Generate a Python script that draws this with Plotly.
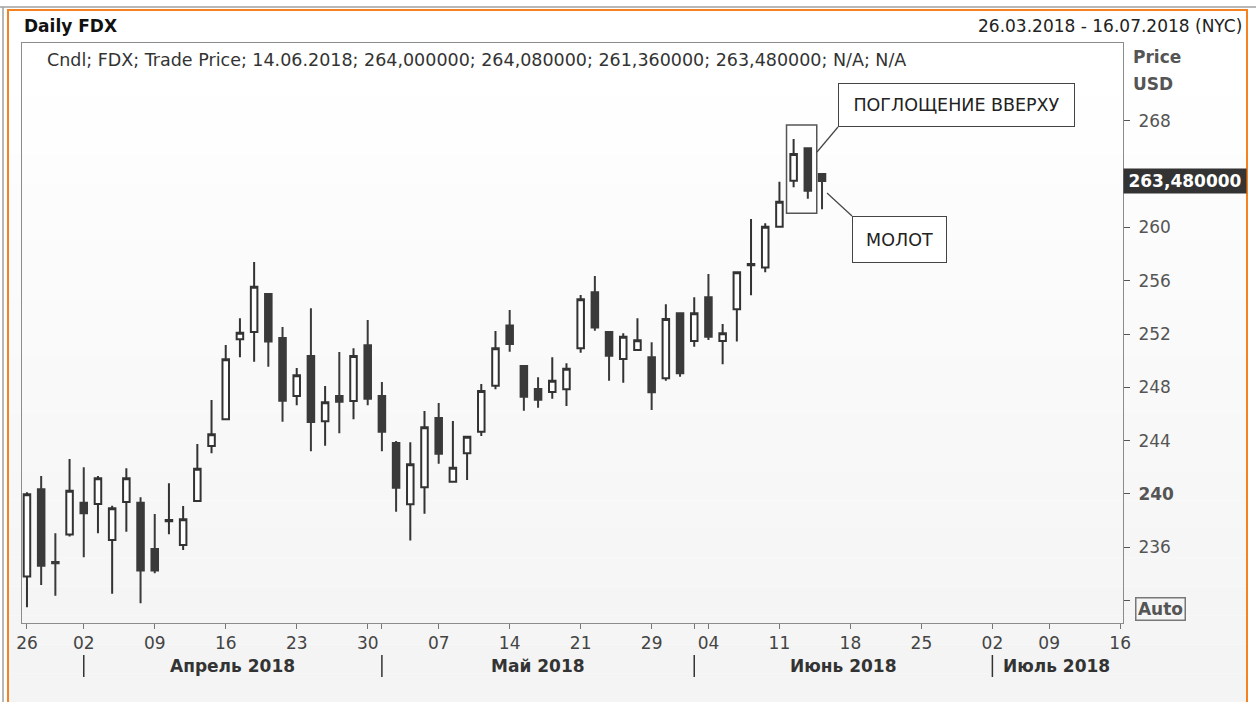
import plotly.graph_objects as go

# ---------------- data ----------------
dates = [
    "2018-03-26", "2018-03-27", "2018-03-28", "2018-03-29",
    "2018-04-02", "2018-04-03", "2018-04-04", "2018-04-05", "2018-04-06",
    "2018-04-09", "2018-04-10", "2018-04-11", "2018-04-12", "2018-04-13",
    "2018-04-16", "2018-04-17", "2018-04-18", "2018-04-19", "2018-04-20",
    "2018-04-23", "2018-04-24", "2018-04-25", "2018-04-26", "2018-04-27",
    "2018-04-30", "2018-05-01", "2018-05-02", "2018-05-03", "2018-05-04",
    "2018-05-07", "2018-05-08", "2018-05-09", "2018-05-10", "2018-05-11",
    "2018-05-14", "2018-05-15", "2018-05-16", "2018-05-17", "2018-05-18",
    "2018-05-21", "2018-05-22", "2018-05-23", "2018-05-24", "2018-05-25",
    "2018-05-29", "2018-05-30", "2018-05-31", "2018-06-01",
    "2018-06-04", "2018-06-05", "2018-06-06", "2018-06-07", "2018-06-08",
    "2018-06-11", "2018-06-12", "2018-06-13", "2018-06-14",
]
future_dates = [
    "2018-06-15", "2018-06-18", "2018-06-19", "2018-06-20", "2018-06-21",
    "2018-06-22", "2018-06-25", "2018-06-26", "2018-06-27", "2018-06-28",
    "2018-06-29", "2018-07-02", "2018-07-03", "2018-07-05", "2018-07-06",
    "2018-07-09", "2018-07-10", "2018-07-11", "2018-07-12", "2018-07-13",
    "2018-07-16",
]
open_ = [233.80, 240.35, 234.90, 236.95, 239.35, 239.25, 236.55, 239.40, 239.35,
         235.87, 237.95, 236.17, 239.47, 243.60, 245.60, 251.60, 252.15, 255.00,
         251.70, 247.35, 250.35, 245.45, 247.35, 246.98, 251.15, 247.35, 243.83,
         239.23, 240.50, 245.70, 240.92, 243.05, 244.67, 248.12, 252.63, 249.60,
         247.88, 247.65, 247.85, 250.93, 255.13, 252.15, 250.13, 250.80, 250.25,
         248.68, 253.55, 251.48, 254.75, 251.48, 253.85, 257.15, 256.98, 260.05,
         263.50, 265.93, 264.00]
high = [240.13, 241.35, 237.05, 242.63, 242.00, 241.35, 239.12, 241.93, 239.75,
        238.50, 240.80, 239.10, 243.75, 247.05, 251.18, 253.18, 257.40, 255.00,
        252.53, 249.45, 253.93, 248.10, 250.65, 250.93, 253.05, 248.40, 243.98,
        243.88, 246.23, 246.83, 245.48, 244.35, 248.25, 252.23, 253.80, 249.60,
        248.75, 250.25, 249.80, 254.93, 256.35, 252.15, 252.05, 253.18, 251.38,
        254.23, 253.55, 254.75, 256.50, 252.75, 256.68, 260.63, 260.30, 263.43,
        266.63, 265.93, 264.08]
low = [231.50, 233.17, 232.37, 236.80, 235.25, 237.05, 232.52, 237.17, 231.80,
       234.05, 236.98, 235.80, 239.40, 243.05, 245.60, 250.25, 249.92, 249.55,
       245.42, 246.65, 243.20, 243.62, 244.55, 245.60, 246.65, 243.20, 238.67,
       236.50, 238.52, 242.27, 240.92, 241.05, 244.35, 247.85, 250.67, 246.25,
       246.47, 247.15, 246.60, 250.60, 252.25, 248.50, 248.35, 250.80, 246.30,
       248.50, 248.80, 251.05, 251.55, 249.73, 251.43, 254.90, 256.63, 260.05,
       263.00, 262.15, 261.36]
close = [239.98, 234.62, 234.80, 240.25, 238.55, 241.18, 238.93, 241.18, 234.25,
         234.25, 238.05, 238.10, 241.90, 244.48, 250.10, 252.10, 255.55, 251.43,
         247.00, 248.90, 245.40, 246.88, 246.92, 250.35, 247.15, 244.67, 240.47,
         242.23, 245.00, 243.02, 241.97, 244.30, 247.73, 250.93, 251.25, 247.30,
         247.07, 248.50, 249.40, 254.60, 252.48, 250.37, 251.80, 251.53, 247.63,
         253.13, 249.05, 253.55, 251.80, 252.05, 256.63, 257.25, 260.05, 261.93,
         265.50, 262.75, 263.48]

tick_dates = ["2018-03-26", "2018-04-02", "2018-04-09", "2018-04-16", "2018-04-23",
              "2018-04-30", "2018-05-01", "2018-05-07", "2018-05-14", "2018-05-21",
              "2018-05-29", "2018-06-01", "2018-06-04", "2018-06-11", "2018-06-18",
              "2018-06-25", "2018-07-02", "2018-07-09", "2018-07-16"]
tick_text = ["26", "02", "09", "16", "23", "30", "", "07", "14", "21", "29", "",
             "04", "11", "18", "25", "02", "09", "16"]
month_names = ["Апрель 2018", "Май 2018", "Июнь 2018", "Июль 2018"]
month_keys = ["2018-04", "2018-05", "2018-06", "2018-07"]
y_ticks = [232, 236, 240, 244, 248, 252, 256, 260, 264, 268]
y_tick_text = ["", "236", "<b>240</b>", "244", "248", "252", "256", "260", "", "268"]

title_text = "Daily FDX"
range_text = "26.03.2018 - 16.07.2018 (NYC)"
legend_text = "Cndl; FDX; Trade Price; 14.06.2018; 264,000000; 264,080000; 261,360000; 263,480000; N/A; N/A"
engulf_text = "ПОГЛОЩЕНИЕ ВВЕРХУ"
hammer_text = "МОЛОТ"
last_label = "263,480000"

axis_dates = dates + future_dates

# ---------------- layout helpers ----------------
W, H = 1256, 702
L, R, T, B = 22, 1123, 43, 623
FONT = "DejaVu Sans"
FS = 17


def px(x):
    return (x - L) / (R - L)


def py(y):
    return (B - y) / (B - T)


fig = go.Figure()
fig.add_trace(go.Candlestick(
    x=dates, open=open_, high=high, low=low, close=close,
    increasing=dict(line=dict(color="#333333", width=2), fillcolor="#ffffff"),
    decreasing=dict(line=dict(color="#3a3a3a", width=2), fillcolor="#3a3a3a"),
    whiskerwidth=0, showlegend=False, hoverinfo="skip",
))

shapes = []
# background gradient
nb = 24
top_px, bot_px = 10, 702
for k in range(nb):
    y0 = top_px + (bot_px - top_px) * k / nb
    y1 = top_px + (bot_px - top_px) * (k + 1) / nb
    t = max(0.0, (y0 - 43) / (bot_px - 43))
    c = int(round(255 - t * 12))
    shapes.append(dict(type="rect", xref="paper", yref="paper", layer="below",
                       x0=px(8), x1=px(1247), y0=py(y1), y1=py(y0),
                       fillcolor=f"rgb({c},{c},{c})", line=dict(width=0)))
# white header
shapes.append(dict(type="rect", xref="paper", yref="paper", layer="below",
                   x0=px(8), x1=px(1247), y0=py(43), y1=py(10),
                   fillcolor="#ffffff", line=dict(width=0)))
# outer frame lines
shapes += [
    dict(type="line", xref="paper", yref="paper", x0=px(0), x1=px(1256), y0=py(7), y1=py(7),
         line=dict(color="#a0a0a0", width=1.5)),
    dict(type="line", xref="paper", yref="paper", x0=px(3), x1=px(3), y0=py(7), y1=py(702),
         line=dict(color="#a0a0a0", width=1.5)),
    dict(type="line", xref="paper", yref="paper", x0=px(7), x1=px(1248), y0=py(10), y1=py(10),
         line=dict(color="#f58220", width=2)),
    dict(type="line", xref="paper", yref="paper", x0=px(8), x1=px(8), y0=py(10), y1=py(702),
         line=dict(color="#f58220", width=2)),
    dict(type="line", xref="paper", yref="paper", x0=px(1247), x1=px(1247), y0=py(10), y1=py(702),
         line=dict(color="#f58220", width=2)),
]

# month separators and labels
annotations = []
starts = [next(i for i, d in enumerate(axis_dates) if d.startswith(mk)) for mk in month_keys]
ends = starts[1:] + [len(axis_dates) - 1]
for name, s, e in zip(month_names, starts, ends):
    shapes.append(dict(type="line", xref="x", yref="paper", x0=s, x1=s,
                       y0=py(655), y1=py(677), line=dict(color="#333333", width=1.5)))
    annotations.append(dict(x=(s + e) / 2, y=py(666), xref="x", yref="paper",
                            xanchor="center", yanchor="middle",
                            text=f"<b>{name}</b>", showarrow=False,
                            font=dict(family=FONT, size=FS, color="#333333")))

# engulfing rectangle around candles
i_eng = len(dates) - 3
shapes.append(dict(type="rect", xref="x", yref="y",
                   x0=i_eng - 0.5, x1=i_eng + 1.63,
                   y0=min(low[i_eng:i_eng + 2]) - 1.1, y1=max(high[i_eng:i_eng + 2]) + 1.05,
                   line=dict(color="#555555", width=1.5)))
# callout connector lines
shapes += [
    dict(type="line", xref="paper", yref="paper", x0=px(817), y0=py(152), x1=px(838), y1=py(127),
         line=dict(color="#444444", width=1.2)),
    dict(type="line", xref="paper", yref="paper", x0=px(827), y0=py(193), x1=px(852), y1=py(216),
         line=dict(color="#444444", width=1.2)),
]

annotations += [
    dict(x=px(22), y=py(26), xref="paper", yref="paper", xanchor="left", yanchor="middle",
         text=f"<b>{title_text}</b>", showarrow=False,
         font=dict(family=FONT, size=FS, color="#111111")),
    dict(x=px(1244), y=py(26), xref="paper", yref="paper", xanchor="right", yanchor="middle",
         text=range_text, showarrow=False, font=dict(family=FONT, size=FS, color="#222222")),
    dict(x=px(45), y=py(60), xref="paper", yref="paper", xanchor="left", yanchor="middle",
         text=legend_text, showarrow=False, font=dict(family=FONT, size=17.5, color="#333333")),
    dict(x=px(1131), y=py(57), xref="paper", yref="paper", xanchor="left", yanchor="middle",
         text="<b>Price</b>", showarrow=False, font=dict(family=FONT, size=FS, color="#555555")),
    dict(x=px(1131), y=py(84), xref="paper", yref="paper", xanchor="left", yanchor="middle",
         text="<b>USD</b>", showarrow=False, font=dict(family=FONT, size=FS, color="#555555")),
    dict(x=px(1185), y=close[-1], xref="paper", yref="y", xanchor="center", yanchor="middle",
         text=f"<b>{last_label}</b>", showarrow=False, bgcolor="#333333",
         width=118, height=20, borderpad=2,
         font=dict(family=FONT, size=FS, color="#ffffff")),
    dict(x=px(1160.5), y=py(609), xref="paper", yref="paper", xanchor="center", yanchor="middle",
         text="<b>Auto</b>", showarrow=False, bordercolor="#777777", borderwidth=1.5,
         width=46, height=19, borderpad=1,
         font=dict(family=FONT, size=FS, color="#555555")),
    dict(x=px(956.5), y=py(105), xref="paper", yref="paper", xanchor="center", yanchor="middle",
         text=engulf_text, showarrow=False, bordercolor="#444444", borderwidth=1,
         bgcolor="#ffffff", width=233, height=40, borderpad=1,
         font=dict(family=FONT, size=17.5, color="#222222")),
    dict(x=px(899.5), y=py(239.5), xref="paper", yref="paper", xanchor="center", yanchor="middle",
         text=hammer_text, showarrow=False, bordercolor="#444444", borderwidth=1,
         bgcolor="#ffffff", width=91, height=43, borderpad=1,
         font=dict(family=FONT, size=17.5, color="#222222")),
]

fig.update_layout(
    width=W, height=H,
    margin=dict(l=L, r=W - R, t=T, b=H - B, pad=0),
    paper_bgcolor="#ffffff", plot_bgcolor="rgba(0,0,0,0)",
    boxgap=0.54, boxgroupgap=0,
    showlegend=False,
    shapes=shapes, annotations=annotations,
    xaxis=dict(
        type="category", categoryorder="array", categoryarray=axis_dates,
        range=[-0.35, len(axis_dates) - 1 + 0.2],
        tickmode="array", tickvals=tick_dates, ticktext=tick_text,
        ticks="outside", ticklen=5, tickcolor="#777777", tickwidth=1,
        tickfont=dict(family=FONT, size=FS, color="#444444"),
        showgrid=False, zeroline=False, automargin=False,
        showline=True, mirror=True, linecolor="#8c8c8c", linewidth=1,
        rangeslider=dict(visible=False), fixedrange=True,
    ),
    yaxis=dict(
        side="right", range=[230.32, 273.83],
        tickmode="array", tickvals=y_ticks, ticktext=y_tick_text,
        ticks="outside", ticklen=6, tickcolor="#555555", tickwidth=1,
        ticklabelstandoff=5,
        tickfont=dict(family=FONT, size=FS, color="#555555"),
        showgrid=False, zeroline=False, automargin=False,
        showline=True, mirror=True, linecolor="#8c8c8c", linewidth=1,
        fixedrange=True,
    ),
    font=dict(family=FONT),
)

fig.write_html(
    "out.html",
    config={"displayModeBar": False},
    post_script="document.body.style.margin='0';document.body.style.overflow='hidden';",
)
